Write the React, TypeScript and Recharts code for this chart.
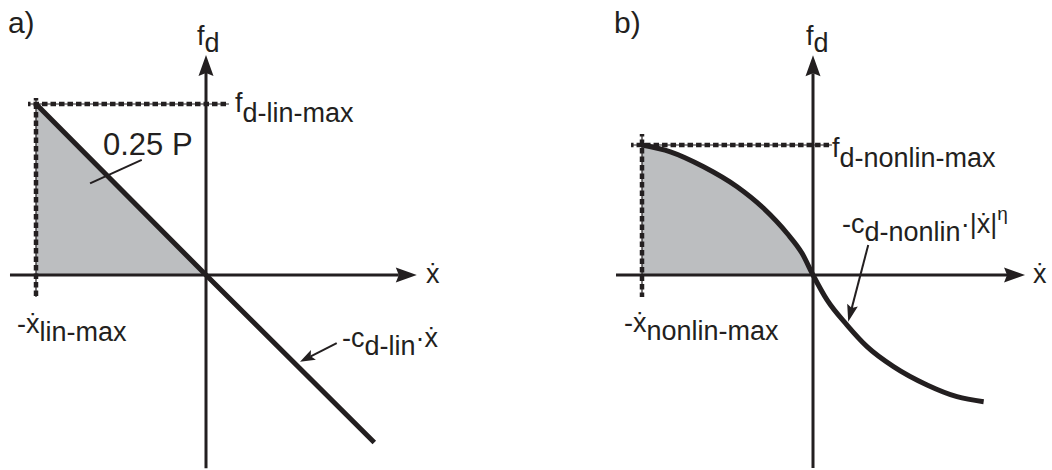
import React from "react";
import {
  Area,
  ComposedChart,
  Line,
  ReferenceDot,
  ReferenceLine,
  XAxis,
  YAxis,
} from "recharts";

const INK = "#231f20";
const SHADE = "#bcbec0";
const FONT = "'Liberation Sans', Arial, Helvetica, sans-serif";

// a) linear damper, f = -c·ẋ  (velocity in units of ẋmax, force in units of fmax)
const linVel = [-1, 0, 0.99];
const linForce = [1, 0, -0.98];

// b) nonlinear damper, f = -c·|ẋ|^η
const nonlinVel = [
  -1, -0.834, -0.64, -0.444, -0.289, -0.152, -0.064, 0, 0.082, 0.199, 0.316,
  0.471, 0.667, 0.842, 0.998,
];
const nonlinForce = [
  1, 0.948, 0.833, 0.679, 0.513, 0.321, 0.167, 0, -0.192, -0.385, -0.551,
  -0.705, -0.846, -0.936, -0.975,
];

const toRows = (xs: number[], ys: number[]) => xs.map((x, i) => ({ x, f: ys[i] }));
const linRows = toRows(linVel, linForce);
const linShade = linRows.filter((r) => r.x <= 0);
const nonlinRows = toRows(nonlinVel, nonlinForce);
const nonlinShade = nonlinRows.filter((r) => r.x <= 0);

const W = 526;
const H = 470;

// axis domains so that the origin lands at (ox, oy) with sx / sy px per unit
function frame(ox: number, oy: number, sx: number, sy: number) {
  return {
    x: [-ox / sx, (W - ox) / sx] as [number, number],
    y: [-(H - oy) / sy, oy / sy] as [number, number],
  };
}
const frameA = frame(206, 275, 170, 171);
const frameB = frame(287, 275, 171, 130);

// line with a filled, slightly notched arrow head at (x2, y2)
function arrow(len: number, half: number, width: number) {
  return (p: any) => {
    const { x1, y1, x2, y2 } = p;
    const a = Math.atan2(y2 - y1, x2 - x1);
    const c = Math.cos(a);
    const s = Math.sin(a);
    const bx = x2 - len * c;
    const by = y2 - len * s;
    const nx = -s * half;
    const ny = c * half;
    const kx = x2 - (len - 3) * c;
    const ky = y2 - (len - 3) * s;
    return (
      <g>
        <line x1={x1} y1={y1} x2={kx} y2={ky} stroke={INK} strokeWidth={width} />
        <polygon
          points={`${x2},${y2} ${bx + nx},${by + ny} ${kx},${ky} ${bx - nx},${by - ny}`}
          fill={INK}
        />
      </g>
    );
  };
}

// thin guide with heavy square dashes on top
const dashed = (p: any) => (
  <g>
    <line x1={p.x1} y1={p.y1} x2={p.x2} y2={p.y2} stroke={INK} strokeWidth={1.2} />
    <line
      x1={p.x1}
      y1={p.y1}
      x2={p.x2}
      y2={p.y2}
      stroke={INK}
      strokeWidth={4.5}
      strokeDasharray="5.5 3"
      strokeDashoffset={3}
    />
  </g>
);

const plain = (p: any) => (
  <line x1={p.x1} y1={p.y1} x2={p.x2} y2={p.y2} stroke={INK} strokeWidth={2} />
);

interface SymProps {
  main: string;
  sub?: string;
  tail?: string;
  sup?: string;
  size?: number;
  subDy?: number;
}

function label({ main, sub, tail, sup, size = 27, subDy = 8 }: SymProps) {
  return (p: any) => (
    <text x={p.cx} y={p.cy} fontFamily={FONT} fontSize={size} fill={INK}>
      <tspan>{main}</tspan>
      {sub && <tspan dy={subDy}>{sub}</tspan>}
      {tail && <tspan dy={sub ? -subDy : 0}>{tail}</tspan>}
      {sup && (
        <tspan dy={-13} fontSize={19}>
          {sup}
        </tspan>
      )}
    </text>
  );
}

function Tag({ x, y, ...rest }: SymProps & { x: number; y: number }) {
  return <ReferenceDot x={x} y={y} r={0} ifOverflow="visible" shape={label(rest)} />;
}

function Panel({
  fr,
  shade,
  curve,
  type,
  children,
}: {
  fr: { x: [number, number]; y: [number, number] };
  shade: { x: number; f: number }[];
  curve: { x: number; f: number }[];
  type: "linear" | "monotone";
  children: React.ReactNode;
}) {
  return (
    <ComposedChart width={W} height={H} margin={{ top: 0, right: 0, bottom: 0, left: 0 }}>
      <XAxis type="number" dataKey="x" domain={fr.x} allowDataOverflow hide />
      <YAxis type="number" dataKey="f" domain={fr.y} allowDataOverflow hide />
      <Area
        data={shade}
        dataKey="f"
        type={type}
        baseValue={0}
        stroke="none"
        fill={SHADE}
        fillOpacity={1}
        dot={false}
        activeDot={false}
        isAnimationActive={false}
      />
      {children}
      <Line
        data={curve}
        dataKey="f"
        type={type}
        stroke={INK}
        strokeWidth={5}
        dot={false}
        activeDot={false}
        isAnimationActive={false}
      />
    </ComposedChart>
  );
}

export default function App() {
  return (
    <div
      style={{
        position: "absolute",
        left: 0,
        top: 0,
        width: 1052,
        height: 470,
        background: "#fff",
        display: "flex",
      }}
    >
      <Panel fr={frameA} shade={linShade} curve={linRows} type="linear">
        <ReferenceLine segment={[{ x: -1.047, y: 1 }, { x: 0.135, y: 1 }]} shape={dashed} ifOverflow="visible" />
        <ReferenceLine segment={[{ x: -1, y: 1.035 }, { x: -1, y: -0.129 }]} shape={dashed} ifOverflow="visible" />
        <ReferenceLine segment={[{ x: -1.153, y: 0 }, { x: 1.24, y: 0 }]} shape={arrow(21, 7.5, 3)} ifOverflow="visible" />
        <ReferenceLine segment={[{ x: 0, y: -1.13 }, { x: 0, y: 1.287 }]} shape={arrow(21, 7.5, 3)} ifOverflow="visible" />
        <ReferenceLine segment={[{ x: -0.378, y: 0.673 }, { x: -0.682, y: 0.536 }]} shape={plain} ifOverflow="visible" />
        <ReferenceLine segment={[{ x: 0.769, y: -0.399 }, { x: 0.553, y: -0.507 }]} shape={arrow(15, 5.5, 2)} ifOverflow="visible" />
        <Tag x={-1.165} y={1.415} main="a)" size={30} />
        <Tag x={-0.053} y={1.345} main="f" sub="d" subDy={7} />
        <Tag x={0.171} y={0.953} main="f" sub="d-lin-max" subDy={10} />
        <Tag x={-0.606} y={0.702} main="0.25 P" size={31} />
        <Tag x={-1.112} y={-0.339} main="-ẋ" sub="lin-max" />
        <Tag x={0.8} y={-0.421} main="-c" sub="d-lin" tail="·ẋ" />
        <Tag x={1.294} y={-0.047} main="ẋ" />
      </Panel>
      <Panel fr={frameB} shade={nonlinShade} curve={nonlinRows} type="monotone">
        <ReferenceLine segment={[{ x: -1.064, y: 1 }, { x: 0.111, y: 1 }]} shape={dashed} ifOverflow="visible" />
        <ReferenceLine segment={[{ x: -1, y: 1.085 }, { x: -1, y: -0.169 }]} shape={dashed} ifOverflow="visible" />
        <ReferenceLine segment={[{ x: -1.152, y: 0 }, { x: 1.24, y: 0 }]} shape={arrow(21, 7.5, 3)} ifOverflow="visible" />
        <ReferenceLine segment={[{ x: 0, y: -1.485 }, { x: 0, y: 1.69 }]} shape={arrow(21, 7.5, 3)} ifOverflow="visible" />
        <ReferenceLine segment={[{ x: 0.323, y: 0.231 }, { x: 0.206, y: -0.359 }]} shape={arrow(17, 5.5, 2)} ifOverflow="visible" />
        <Tag x={-1.164} y={1.862} main="b)" size={30} />
        <Tag x={-0.041} y={1.769} main="f" sub="d" subDy={7} />
        <Tag x={0.111} y={0.908} main="f" sub="d-nonlin-max" subDy={10} />
        <Tag x={-1.105} y={-0.438} main="-ẋ" sub="nonlin-max" />
        <Tag x={0.17} y={0.323} main="-c" sub="d-nonlin" tail="·|ẋ|" sup="η" />
        <Tag x={1.287} y={-0.062} main="ẋ" />
      </Panel>
    </div>
  );
}
